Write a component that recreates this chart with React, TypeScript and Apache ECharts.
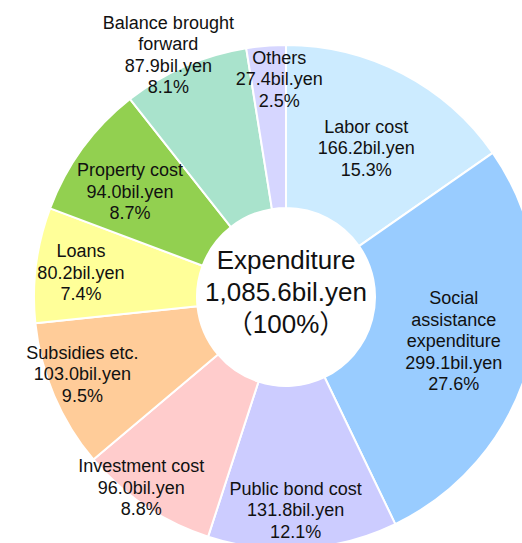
import React, { useEffect, useRef } from "react";
import * as echarts from "echarts";

const categories = [
  "Labor cost",
  "Social\nassistance\nexpenditure",
  "Public bond cost",
  "Investment cost",
  "Subsidies etc.",
  "Loans",
  "Property cost",
  "Balance brought\nforward",
  "Others",
];
const values = [166.2, 299.1, 131.8, 96.0, 103.0, 80.2, 94.0, 87.9, 27.4];
const colors = ["#CCEBFF", "#99CCFF", "#CCCCFF", "#FFCCCC", "#FFCC99", "#FFFF99", "#92D050", "#A9E3CC", "#D6D6FF"];
const labelOffsets: [number, number][] = [
  [0, 5], [0, 0], [-2, 40], [-48, 47], [-44, 9], [-33, -2], [-16, -3], [-48, -83], [7, -45],
];
const centerTitle = "Expenditure";
const unit = "bil.yen";

export default function App() {
  const ref = useRef<HTMLDivElement>(null);
  useEffect(() => {
    if (!ref.current) return;
    const chart = echarts.init(ref.current, null, { renderer: "svg" });
    const total = values.reduce((a, b) => a + b, 0);
    const totalStr = total.toLocaleString("en-US", { minimumFractionDigits: 1, maximumFractionDigits: 1 });
    chart.setOption({
      animation: false,
      backgroundColor: "#ffffff",
      graphic: [
        {
          type: "text",
          x: 286,
          y: 292,
          style: {
            text: `${centerTitle}\n${totalStr}${unit}\n（100%）`,
            fontFamily: "Liberation Sans, Arial, Noto Sans CJK JP, sans-serif",
            fontSize: 26,
            lineHeight: 32,
            fill: "#111",
            align: "center",
            verticalAlign: "middle",
          },
          z: 10,
        },
      ],
      series: [
        {
          type: "pie",
          center: [286, 297],
          radius: [89, 252],
          startAngle: 90,
          clockwise: true,
          percentPrecision: 1,
          avoidLabelOverlap: false,
          itemStyle: { borderColor: "#ffffff", borderWidth: 2 },
          label: {
            show: true,
            position: "inside",
            color: "#111",
            fontFamily: "Liberation Sans, Arial, sans-serif",
            fontSize: 18,
            lineHeight: 21.5,
            align: "center",
            formatter: (p: any) => `${p.name}\n${p.value.toFixed(1)}${unit}\n${p.percent.toFixed(1)}%`,
          },
          labelLine: { show: false },
          emphasis: { disabled: true },
          data: categories.map((name, i) => ({
            name,
            value: values[i],
            itemStyle: { color: colors[i] },
            label: { offset: labelOffsets[i] },
          })),
        },
      ],
    });
    return () => chart.dispose();
  }, []);
  return <div ref={ref} style={{ width: 522, height: 543, position: "absolute", left: 0, top: 0 }} />;
}
